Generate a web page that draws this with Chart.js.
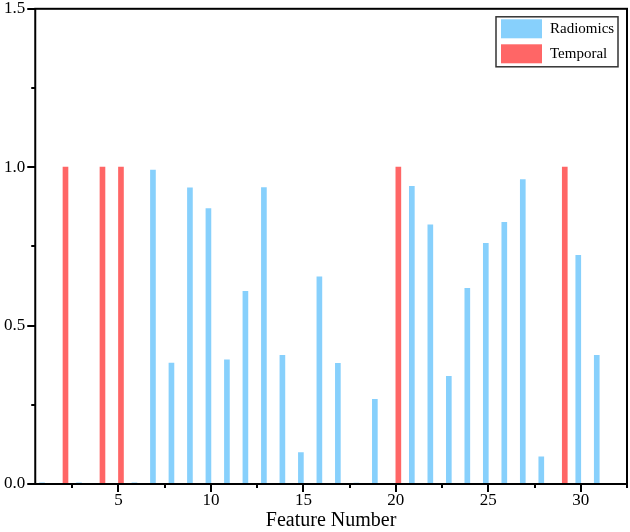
<!DOCTYPE html>
<html>
<head>
<meta charset="utf-8">
<script src="https://cdn.jsdelivr.net/npm/chart.js@4.4.1/dist/chart.umd.min.js"></script>
<style>
  html, body { margin: 0; padding: 0; background: #fff; }
  #wrap { width: 630px; height: 532px; }
</style>
</head>
<body>
<div id="wrap"><canvas id="c" width="630" height="532"></canvas></div>
<script>
// ---- data ----
const features = [1,2,3,4,5,6,7,8,9,10,11,12,13,14,15,16,17,18,19,20,21,22,23,24,25,26,27,28,29,30,31];
const radiomics = [0.004,0,0.004,0,0,0.004,0.991,0.382,0.935,0.869,0.392,0.608,0.936,0.406,0.099,0.654,0.381,0.003,0.267,0,0.940,0.818,0.340,0.618,0.760,0.826,0.961,0.086,0,0.722,0.406];
const temporal  = [0,1,0,1,1,0,0,0,0,0,0,0,0,0,0,0,0,0,0,1,0,0,0,0,0,0,0,0,1,0,0];
const xMajorTicks = [5,10,15,20,25,30];
const xMinorTicks = [2.5,7.5,12.5,17.5,22.5,27.5,32.5];
const yMajorTicks = [0,0.5,1.0,1.5];
const yMinorTicks = [0.25,0.75,1.25];
const seriesNames = ['Radiomics','Temporal'];
const xTitle = 'Feature Number';

const BLUE = 'rgb(135,208,252)';
const RED = 'rgb(255,102,102)';
const FONT = '"Liberation Serif", "Times New Roman", serif';

const frameAndTicks = {
  id: 'frameAndTicks',
  afterDraw(chart) {
    const {ctx, chartArea: a, scales: {x, y}} = chart;
    ctx.save();
    ctx.strokeStyle = '#000';
    ctx.lineWidth = 2;
    ctx.strokeRect(a.left, a.top, a.right - a.left, a.bottom - a.top);
    ctx.beginPath();
    xMajorTicks.forEach(v => { const p = Math.round(x.getPixelForValue(v)); ctx.moveTo(p, a.bottom); ctx.lineTo(p, a.bottom + 8); });
    xMinorTicks.forEach(v => { const p = Math.round(x.getPixelForValue(v)); ctx.moveTo(p, a.bottom); ctx.lineTo(p, a.bottom + 4); });
    yMajorTicks.forEach(v => { const p = Math.round(y.getPixelForValue(v)); ctx.moveTo(a.left, p); ctx.lineTo(a.left - 8, p); });
    yMinorTicks.forEach(v => { const p = Math.round(y.getPixelForValue(v)); ctx.moveTo(a.left, p); ctx.lineTo(a.left - 4, p); });
    ctx.stroke();

    // legend box
    const lx = a.right - 131, ly = a.top + 8;
    ctx.lineWidth = 1.5;
    ctx.strokeStyle = '#333';
    ctx.strokeRect(lx, ly, 122, 50);
    const cols = [BLUE, RED];
    ctx.font = '15px ' + FONT;
    ctx.textBaseline = 'middle';
    seriesNames.forEach((n, i) => {
      ctx.fillStyle = cols[i];
      ctx.fillRect(lx + 5, ly + 2.5 + i * 25, 41, 19);
      ctx.fillStyle = '#000';
      ctx.fillText(n, lx + 54, ly + 12.5 + i * 25);
    });
    ctx.restore();
  }
};

new Chart(document.getElementById('c'), {
  type: 'bar',
  data: {
    datasets: [
      { label: seriesNames[0], data: features.map((f, i) => ({x: f, y: radiomics[i]})), backgroundColor: BLUE, barThickness: 5 },
      { label: seriesNames[1], data: features.map((f, i) => ({x: f, y: temporal[i]})), backgroundColor: RED, barThickness: 5 }
    ]
  },
  options: {
    responsive: false,
    animation: false,
    layout: { padding: { top: 0, right: 3, left: 2, bottom: 1 } },
    plugins: { legend: { display: false }, tooltip: { enabled: false } },
    scales: {
      x: {
        type: 'linear',
        offset: false,
        min: 0.5, max: 32.5,
        afterBuildTicks: s => { s.ticks = xMajorTicks.map(v => ({value: v})); },
        grid: { display: true, offset: false, drawOnChartArea: false, drawTicks: true, tickLength: 8, color: 'rgba(0,0,0,0)', tickColor: 'rgba(0,0,0,0)' },
        border: { display: false },
        ticks: { font: { family: FONT, size: 17, lineHeight: 1 }, color: '#000', padding: 0, maxRotation: 0, autoSkip: false },
        title: { display: true, text: xTitle, font: { family: FONT, size: 20, lineHeight: 1 }, color: '#000', padding: { top: 2, bottom: 0 } }
      },
      y: {
        min: 0, max: 1.5,
        afterBuildTicks: s => { s.ticks = yMajorTicks.map(v => ({value: v})); },
        grid: { display: true, drawOnChartArea: false, drawTicks: true, tickLength: 8, color: 'rgba(0,0,0,0)', tickColor: 'rgba(0,0,0,0)' },
        border: { display: false },
        ticks: { font: { family: FONT, size: 17, lineHeight: 0.8 }, color: '#000', padding: 2, callback: v => Number(v).toFixed(1) }
      }
    }
  },
  plugins: [frameAndTicks]
});
</script>
</body>
</html>
